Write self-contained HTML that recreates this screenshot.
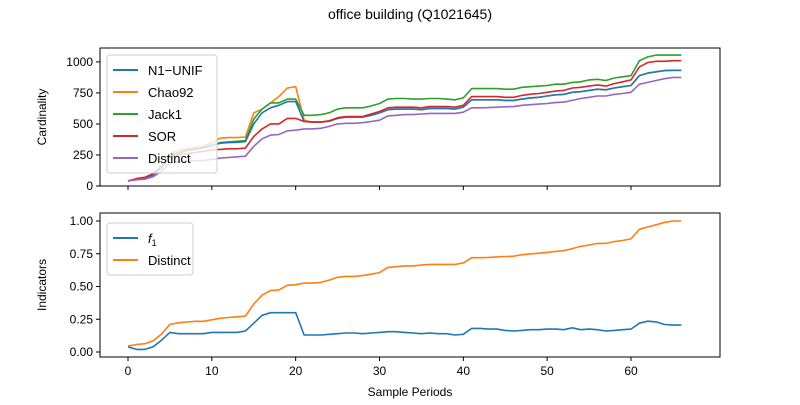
<!DOCTYPE html>
<html><head><meta charset="utf-8"><style>
html,body{margin:0;padding:0;background:#fff;}
svg text{font-family:"Liberation Sans",sans-serif;}
</style></head><body>
<svg id="chart" width="800" height="400" xmlns="http://www.w3.org/2000/svg">
<text x="410" y="19" font-size="14" text-anchor="middle">office building (Q1021645)</text>
<g id="topPanel"></g>
<g id="botPanel"></g>
</svg>
<script>
const periods=[...Array(67).keys()];
const n1Unif=[40,55,62,90,150,240,265,285,295,305,325,345,350,352,358,500,590,630,650,680,680,520,515,515,522,545,555,555,555,570,590,615,620,620,620,615,625,625,625,620,635,695,695,695,695,690,690,700,710,715,725,735,738,755,760,770,780,775,790,800,810,890,910,920,930,932,932];
const chao92=[40,55,65,90,150,260,290,300,310,320,350,385,390,390,395,590,620,670,720,790,800,530,515,515,522,545,555,555,555,570,590,615,620,620,620,615,625,625,625,620,635,695,695,695,695,690,690,700,710,715,725,735,738,755,760,770,780,775,790,800,810,890,910,920,930,932,932];
const jack1=[40,55,65,90,150,250,270,290,300,310,330,350,355,360,365,540,620,670,670,700,700,570,570,575,590,620,630,630,630,645,665,700,705,705,700,700,705,705,700,695,710,785,785,785,785,780,780,795,800,805,810,820,820,835,840,855,860,850,870,880,890,1010,1040,1055,1055,1055,1055];
const sor=[40,60,70,100,160,230,250,260,270,280,290,295,300,300,305,400,460,500,500,545,545,520,515,515,525,550,560,560,560,580,600,630,635,635,635,630,640,640,640,635,650,720,720,720,720,715,715,730,740,745,755,765,770,790,795,805,815,805,825,840,855,960,995,1005,1005,1010,1010];
const distinct=[40,50,55,75,120,185,195,200,205,205,215,225,230,235,240,320,380,410,415,445,450,460,460,465,480,500,505,505,510,520,530,565,570,575,575,580,585,585,585,585,595,630,630,632,635,638,640,650,655,660,665,672,676,690,705,715,725,725,738,745,755,820,835,850,865,875,875];
const f1=[0.04,0.02,0.02,0.04,0.09,0.15,0.14,0.14,0.14,0.14,0.15,0.15,0.15,0.15,0.16,0.22,0.28,0.30,0.30,0.30,0.30,0.13,0.13,0.13,0.135,0.14,0.145,0.145,0.14,0.145,0.15,0.155,0.155,0.15,0.145,0.14,0.145,0.14,0.14,0.13,0.135,0.18,0.18,0.175,0.175,0.165,0.16,0.165,0.17,0.17,0.175,0.175,0.17,0.185,0.17,0.175,0.17,0.16,0.165,0.17,0.175,0.22,0.235,0.23,0.21,0.205,0.205];
const distinctNorm=[0.046,0.057,0.063,0.086,0.137,0.211,0.223,0.229,0.234,0.234,0.246,0.257,0.263,0.269,0.274,0.366,0.434,0.469,0.474,0.509,0.514,0.526,0.526,0.531,0.549,0.571,0.577,0.577,0.583,0.594,0.606,0.646,0.651,0.657,0.657,0.663,0.669,0.669,0.669,0.669,0.68,0.72,0.72,0.722,0.726,0.729,0.731,0.743,0.749,0.754,0.76,0.768,0.773,0.789,0.806,0.817,0.829,0.829,0.843,0.851,0.863,0.937,0.954,0.971,0.989,1.0,1.0];
const xTicks=[0,10,20,30,40,50,60];
const topTicks=[0,250,500,750,1000];
const botTicks=[0,0.25,0.5,0.75,1.0];
const botTickLabels=["0.00","0.25","0.50","0.75","1.00"];
const NS="http://www.w3.org/2000/svg";
function mk(p,t,a){const e=document.createElementNS(NS,t);for(const k in a)e.setAttribute(k,a[k]);p.appendChild(e);return e;}
const L=100,R=720;
const xs=v=>128+(v)*(631-128)/60;
const yTop=v=>186-v*0.1241;
const yBot=v=>352-v*131;
function axes(g,y0,y1,ys,ticks,labels,title,showX){
  mk(g,'rect',{x:L,y:y0,width:R-L,height:y1-y0,fill:'none',stroke:'#000','stroke-width':1});
  ticks.forEach((t,i)=>{const y=ys(t);mk(g,'line',{x1:L-4,x2:L,y1:y,y2:y,stroke:'#000'});
    const tx=mk(g,'text',{x:L-7,y:y+4,'font-size':12,'text-anchor':'end'});tx.textContent=labels[i];
    
    });
  xTicks.forEach(t=>{const x=xs(t);mk(g,'line',{x1:x,x2:x,y1:y1,y2:y1+4,stroke:'#000'});
    if(showX){const tx=mk(g,'text',{x:x,y:y1+18,'font-size':12,'text-anchor':'middle'});tx.textContent=t;
    
    }});
  const yt=mk(g,'text',{x:0,y:0,'font-size':12,'text-anchor':'middle',transform:`translate(46,${(y0+y1)/2}) rotate(-90)`});
  yt.textContent=title;
  
  
}
function line(g,data,ys,color,name){
  const d=data.map((v,i)=>(i?'L':'M')+xs(periods[i]).toFixed(1)+','+ys(v).toFixed(1)).join('');
  const p=mk(g,'path',{d:d,fill:'none',stroke:color,'stroke-width':1.6,'stroke-linejoin':'round'});
  
  
}
function legend(g,x,y,w,items){
  const r=mk(g,'rect',{x:x,y:y,width:w,height:items.length*22+8,rx:3,fill:'#fff','fill-opacity':0.8,stroke:'#ccc'});
  
  
  items.forEach((it,i)=>{const cy=y+15+i*22;
    mk(g,'line',{x1:x+6,x2:x+31,y1:cy,y2:cy,stroke:it[1],'stroke-width':2});
    const t=mk(g,'text',{x:x+41,y:cy+5,'font-size':13});t.innerHTML=it[0];
    
    });
}
const gTop=document.getElementById('topPanel'),gBot=document.getElementById('botPanel');
axes(gTop,48,186,yTop,topTicks,topTicks.map(String),'Cardinality',false);
line(gTop,chao92,yTop,'#ff7f0e','chao92-line');
line(gTop,jack1,yTop,'#2ca02c','jack1-line');
line(gTop,n1Unif,yTop,'#1f77b4','n1-unif-line');
line(gTop,sor,yTop,'#d62728','sor-line');
line(gTop,distinct,yTop,'#9467bd','distinct-line');
legend(gTop,107,55,110,[['N1\u2212UNIF','#1f77b4'],['Chao92','#ff7f0e'],['Jack1','#2ca02c'],['SOR','#d62728'],['Distinct','#9467bd']]);
axes(gBot,213,357,yBot,botTicks,botTickLabels,'Indicators',true);
line(gBot,f1,yBot,'#1f77b4','f1-line');
line(gBot,distinctNorm,yBot,'#ff7f0e','distinct-indicator-line');
legend(gBot,107,223,86,[['<tspan font-style="italic">f</tspan><tspan font-size="9" dy="3">1</tspan>','#1f77b4'],['Distinct','#ff7f0e']]);
const xl=mk(gBot,'text',{x:410,y:396,'font-size':12,'text-anchor':'middle'});xl.textContent='Sample Periods';


</script>
</body></html>
